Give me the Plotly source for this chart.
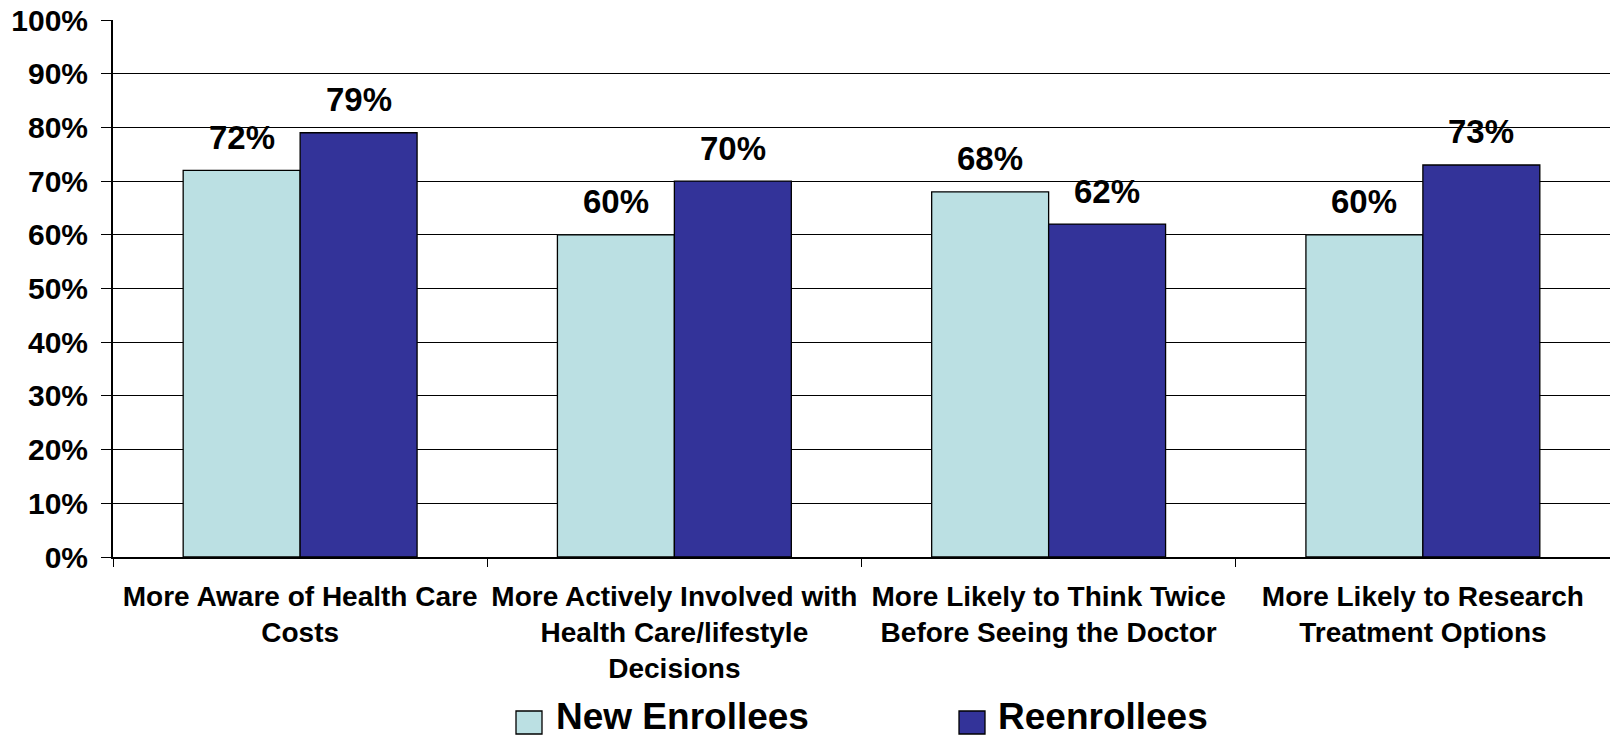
import plotly.graph_objects as go

categories = [
    "More Aware of Health Care<br>Costs",
    "More Actively Involved with<br>Health Care/lifestyle<br>Decisions",
    "More Likely to Think Twice<br>Before Seeing the Doctor",
    "More Likely to Research<br>Treatment Options",
]
series_names = ["New Enrollees", "Reenrollees"]
new_enrollees = [72, 60, 68, 60]
reenrollees = [79, 70, 62, 73]
y_ticks = [0, 10, 20, 30, 40, 50, 60, 70, 80, 90, 100]
y_tick_labels = [f"{v}%" for v in y_ticks]

colors = ["#BBE0E3", "#333399"]
FONT = "Arial, 'Liberation Sans', sans-serif"

W, H = 1610, 738
ML, MR, MT, MB = 113, 0, 20, 181
PW, PH = W - ML - MR, H - MT - MB

fig = go.Figure()
for name, vals, col in zip(series_names, [new_enrollees, reenrollees], colors):
    fig.add_trace(go.Bar(
        x=categories, y=vals, name=name,
        marker=dict(color=col, line=dict(color="black", width=1.3)),
        showlegend=False,
    ))

# data labels
cat_w = PW / len(categories)
bargap = 0.375
bar_w = cat_w * (1 - bargap) / 2
for si, vals in enumerate([new_enrollees, reenrollees]):
    off = (si - 0.5) * bar_w
    for c, v in zip(categories, vals):
        fig.add_annotation(
            x=c, y=v, xref="x", yref="y", text=f"{v}%", showarrow=False,
            xshift=off, yshift=33, yanchor="middle",
            font=dict(family=FONT, size=33, color="black", weight="bold"),
        )

# manual legend
def px_to_paper_x(px):
    return (px - ML) / PW

def px_to_paper_y(py):
    return (H - MB - py) / PH

legend_items = [(516, 554), (959, 996)]
for (sx, tx), name, col in zip(legend_items, series_names, colors):
    fig.add_shape(
        type="rect", xref="paper", yref="paper",
        x0=px_to_paper_x(sx), x1=px_to_paper_x(sx + 26),
        y0=px_to_paper_y(734), y1=px_to_paper_y(711),
        fillcolor=col, line=dict(color="black", width=1.3),
    )
    fig.add_annotation(
        x=px_to_paper_x(tx), y=px_to_paper_y(716), xref="paper", yref="paper",
        text=name, showarrow=False, xanchor="left", yanchor="middle",
        font=dict(family=FONT, size=37, color="black", weight="bold"),
    )

fig.update_layout(
    width=W, height=H,
    margin=dict(l=ML, r=MR, t=MT, b=MB, autoexpand=False),
    paper_bgcolor="white", plot_bgcolor="white",
    barmode="group", bargap=bargap, bargroupgap=0,
    font=dict(family=FONT, color="black"),
)
fig.update_yaxes(
    range=[0, 100], tickvals=y_ticks, ticktext=y_tick_labels,
    showgrid=True, gridcolor="black", gridwidth=1.2,
    showline=True, linecolor="black", linewidth=2,
    ticks="outside", ticklen=10, tickwidth=1.2, tickcolor="black",
    ticklabelstandoff=7, zeroline=False,
    tickfont=dict(family=FONT, size=30, color="black", weight="bold"),
    automargin=False,
)
fig.update_xaxes(
    showline=True, linecolor="black", linewidth=2,
    ticks="outside", ticklen=8, tickwidth=1.2, tickcolor="black",
    tickson="boundaries", showgrid=False, ticklabelstandoff=13,
    tickangle=0,
    tickfont=dict(family=FONT, size=28, color="black", weight="bold"),
    automargin=False,
)

fig.write_html("out.html")
